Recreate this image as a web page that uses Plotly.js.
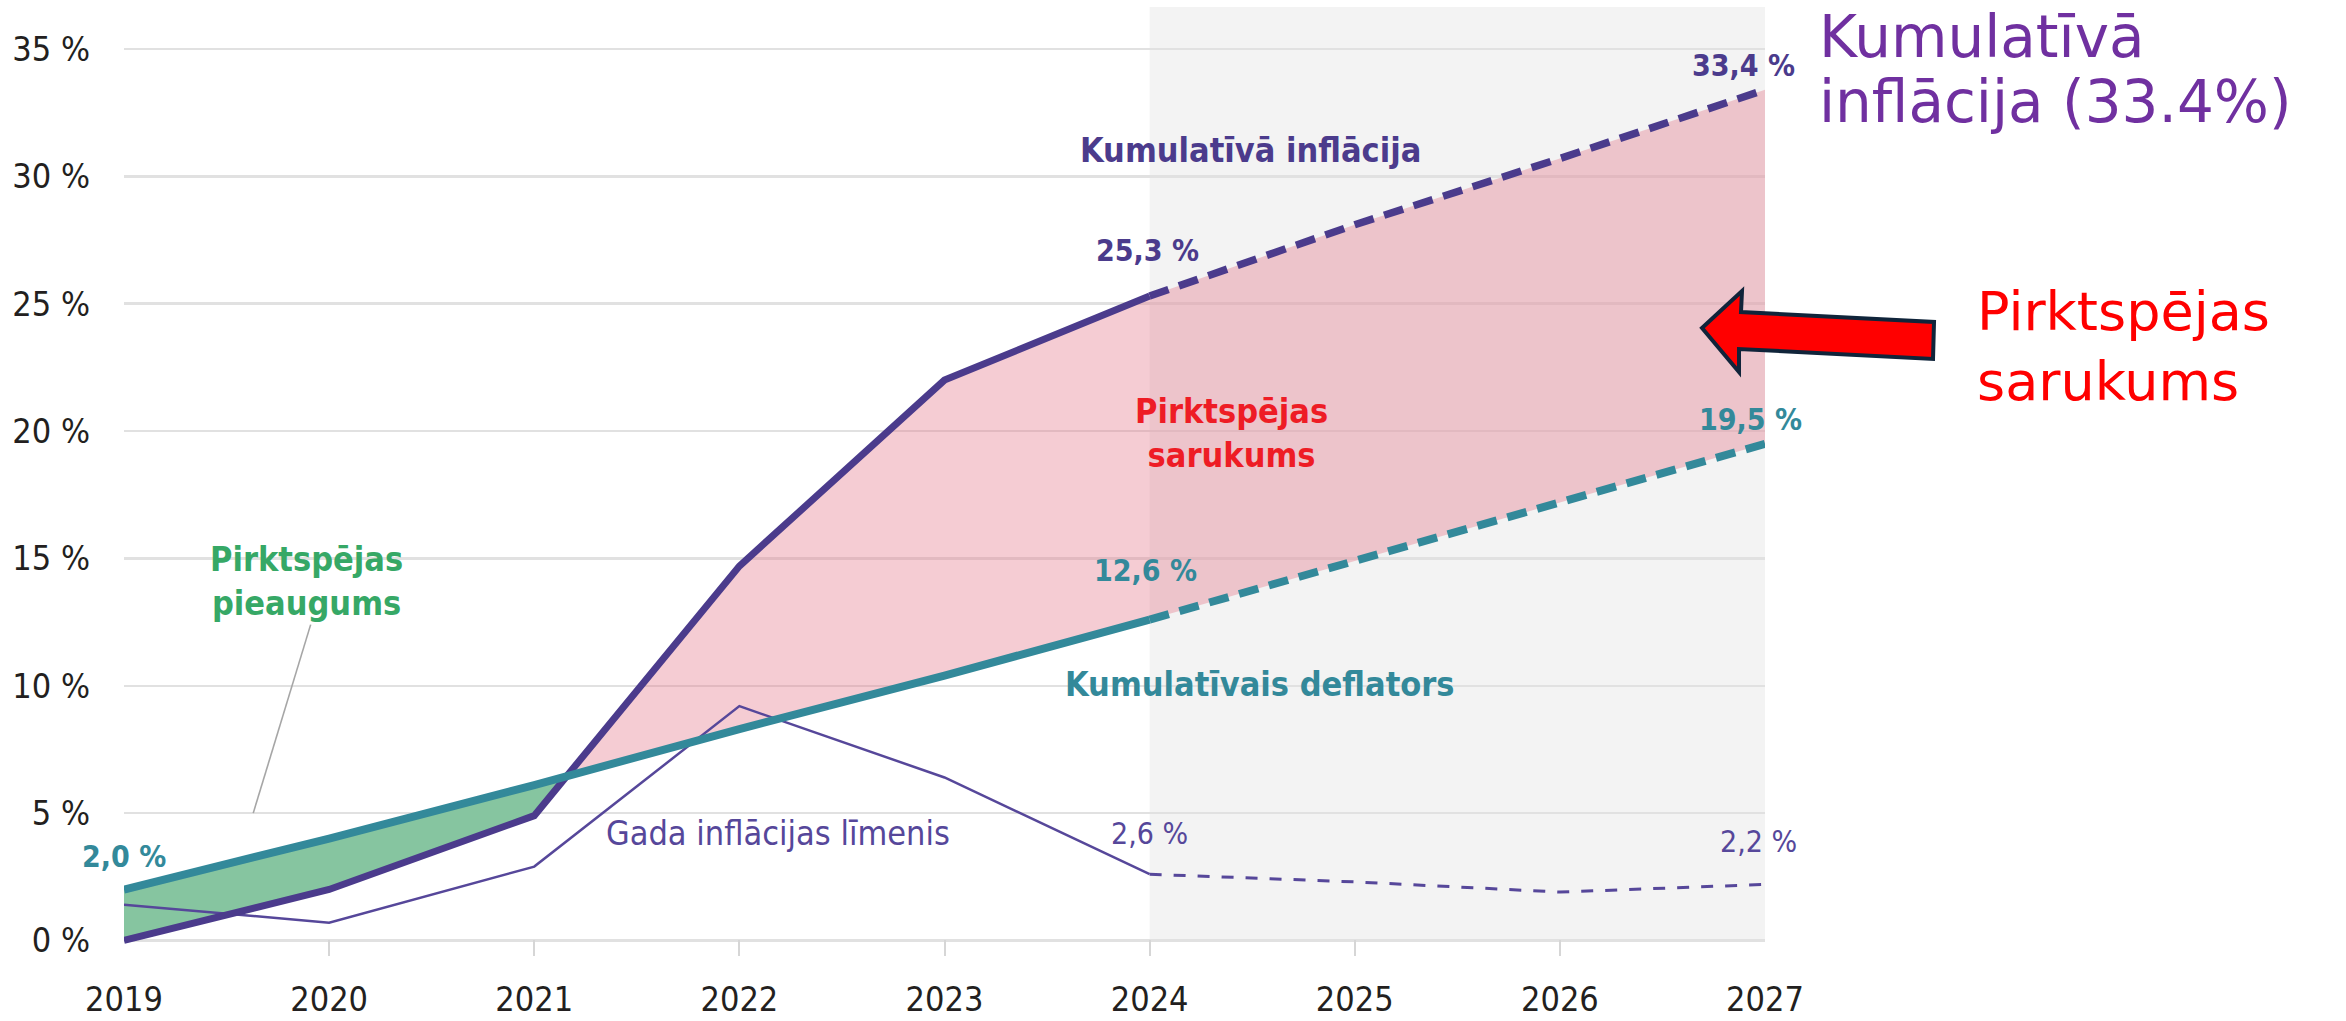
<!DOCTYPE html>
<html><head><meta charset="utf-8">
<script src="https://cdn.plot.ly/plotly-3.0.1.min.js"></script>
<style>html,body{margin:0;padding:0;background:#fff;overflow:hidden}</style>
</head><body><div id="chart" style="width:2346px;height:1021px"></div>
<script>
// ---- data ----
const years = [2019, 2020, 2021, 2022, 2023, 2024, 2025, 2026, 2027];
const cumInflation = [0.0, 2.0, 4.9, 14.7, 22.0, 25.3, 28.1, 30.7, 33.4];
const cumDeflator = [2.0, 4.0, 6.1, 8.3, 10.4, 12.6, 14.9, 17.2, 19.5];
const annualInflation = [1.4, 0.7, 2.9, 9.2, 6.4, 2.6, 2.3, 1.9, 2.2];
const yTickVals = [0, 5, 10, 15, 20, 25, 30, 35];
const yTickText = ["0 %", "5 %", "10 %", "15 %", "20 %", "25 %", "30 %", "35 %"];
const xTickText = ["2019", "2020", "2021", "2022", "2023", "2024", "2025", "2026", "2027"];
const forecastIdx = 5; // 2024: forecast begins

// ---- styles ----
const PURPLE = "#4b3b8c", TEAL = "#33899a", ANNUAL = "#56479a";
const GREEN_FILL = "#86c5a0", PINK_FILL = "rgba(228,120,140,0.38)";
const COND = "DejaVu Sans Condensed, Liberation Sans Narrow, Roboto, sans-serif";
const PLAIN = "DejaVu Sans, Verdana, sans-serif";

// crossing point between cumulative inflation and deflator
let ci = 0;
for (let i = 0; i < years.length - 1; i++) {
  const d0 = cumInflation[i] - cumDeflator[i], d1 = cumInflation[i + 1] - cumDeflator[i + 1];
  if (d0 <= 0 && d1 > 0) { ci = i; break; }
}
const t = (cumDeflator[ci] - cumInflation[ci]) /
  ((cumInflation[ci + 1] - cumInflation[ci]) - (cumDeflator[ci + 1] - cumDeflator[ci]));
const crossX = years[ci] + t * (years[ci + 1] - years[ci]);
const crossY = cumDeflator[ci] + t * (cumDeflator[ci + 1] - cumDeflator[ci]);

const gx = years.slice(0, ci + 1).concat([crossX], years.slice(0, ci + 1).reverse());
const gy = cumDeflator.slice(0, ci + 1).concat([crossY], cumInflation.slice(0, ci + 1).reverse());
const px_ = [crossX].concat(years.slice(ci + 1), years.slice(ci + 1).reverse());
const py_ = [crossY].concat(cumInflation.slice(ci + 1), cumDeflator.slice(ci + 1).reverse());

const solid = a => a.slice(0, forecastIdx + 1);
const fc = a => a.slice(forecastIdx);

const traces = [
  {x: gx, y: gy, mode: "lines", fill: "toself", fillcolor: GREEN_FILL, line: {width: 0}, hoverinfo: "skip"},
  {x: px_, y: py_, mode: "lines", fill: "toself", fillcolor: PINK_FILL, line: {width: 0}, hoverinfo: "skip"},
  {x: solid(years), y: solid(annualInflation), mode: "lines", line: {color: ANNUAL, width: 2.5}},
  {x: fc(years), y: fc(annualInflation), mode: "lines", line: {color: ANNUAL, width: 3, dash: "12px,12px"}},
  {x: solid(years), y: solid(cumInflation), mode: "lines", line: {color: PURPLE, width: 7}},
  {x: fc(years), y: fc(cumInflation), mode: "lines", line: {color: PURPLE, width: 7.5, dash: "20px,11px"}},
  {x: solid(years), y: solid(cumDeflator), mode: "lines", line: {color: TEAL, width: 8}},
  {x: fc(years), y: fc(cumDeflator), mode: "lines", line: {color: TEAL, width: 8, dash: "20px,11px"}}
];

// pixel helpers for decorations outside the plot
const L = 124, R = 1765, T = 7, B = 956, W = 2346, H = 1021;
const pxX = p => (p - L) / (R - L);
const pxY = p => (B - p) / (B - T);

function lbl(text, i, arr, color, bold, size, xs, ys) {
  return {x: years[i], y: arr[i], text: text, showarrow: false, xshift: xs, yshift: ys,
    font: {family: COND, size: size, color: color, weight: bold ? "bold" : "normal"}};
}
function fmt(v) { return v.toFixed(1).replace(".", ",") + " %"; }
function side(text, xp, yp, size, color) {
  return {xref: "paper", yref: "paper", x: pxX(xp), y: pxY(yp), xanchor: "left", yanchor: "middle",
    align: "left", text: text, showarrow: false, font: {family: PLAIN, size: size, color: color}};
}

const annotations = [
  lbl(fmt(cumDeflator[0]), 0, cumDeflator, TEAL, true, 30, 0, 33),
  lbl(fmt(cumDeflator[forecastIdx]), forecastIdx, cumDeflator, TEAL, true, 30, -4, 49),
  lbl(fmt(cumDeflator[8]), 8, cumDeflator, TEAL, true, 30, -15, 24),
  lbl(fmt(cumInflation[forecastIdx]), forecastIdx, cumInflation, PURPLE, true, 30, -2, 46),
  lbl(fmt(cumInflation[8]), 8, cumInflation, PURPLE, true, 30, -22, 24),
  lbl(fmt(annualInflation[forecastIdx]), forecastIdx, annualInflation, ANNUAL, false, 30, 0, 41),
  lbl(fmt(annualInflation[8]), 8, annualInflation, ANNUAL, false, 30, -7, 43),
  {x: 2019.89, y: 14.11, text: "Pirktspējas<br>pieaugums", showarrow: false,
    font: {family: COND, size: 34, color: "#36a866", weight: "bold"}},
  {x: 2022.19, y: 4.22, text: "Gada inflācijas līmenis", showarrow: false,
    font: {family: COND, size: 34, color: ANNUAL}},
  {x: 2024.54, y: 10.07, text: "Kumulatīvais deflators", showarrow: false,
    font: {family: COND, size: 34, color: TEAL, weight: "bold"}},
  {x: 2024.40, y: 19.93, text: "Pirktspējas<br>sarukums", showarrow: false,
    font: {family: COND, size: 34, color: "#ee1c25", weight: "bold"}},
  {x: 2024.49, y: 31.03, text: "Kumulatīvā inflācija", showarrow: false,
    font: {family: COND, size: 34, color: PURPLE, weight: "bold"}},
  side("Kumulatīvā", 1817, 37, 58, "#7030a0"),
  side("inflācija (33.4%)", 1817, 102, 58, "#7030a0"),
  side("Pirktspējas", 1975, 312, 54, "#ff0000"),
  side("sarukums", 1975, 382, 54, "#ff0000")
];

const arrowPts = [[1702, 328], [1742, 291], [1741, 312], [1934, 322], [1933, 359], [1739, 349], [1739, 372]];
const arrowPath = "M " + arrowPts.map(p => pxX(p[0]).toFixed(5) + "," + pxY(p[1]).toFixed(5)).join(" L ") + " Z";

const shapes = [
  {type: "rect", xref: "x", yref: "y", x0: years[forecastIdx], x1: years[8], y0: 0, y1: 36.65,
    fillcolor: "#f3f3f3", line: {width: 0}, layer: "below"},
  {type: "line", xref: "x", yref: "y", x0: 2019.91, y0: 12.4, x1: 2019.63, y1: 5.0,
    line: {color: "#a6a6a6", width: 1.6}, layer: "above"},
  {type: "path", xref: "paper", yref: "paper", path: arrowPath,
    fillcolor: "#ff0000", line: {color: "#10243a", width: 4}, layer: "above"}
];

const layout = {
  width: W, height: H,
  margin: {l: L, r: W - R, t: T, b: H - B},
  paper_bgcolor: "#ffffff", plot_bgcolor: "#ffffff",
  showlegend: false,
  xaxis: {range: [years[0], years[8]], tickvals: years, ticktext: xTickText,
    showgrid: false, zeroline: false, showline: false,
    ticks: "inside", ticklen: 16, tickwidth: 2, tickcolor: "#d6d6d6",
    ticklabelstandoff: 20,
    tickfont: {family: COND, size: 34, color: "#231f20"}},
  yaxis: {range: [-0.61, 36.65], tickvals: yTickVals, ticktext: yTickText,
    showgrid: true, gridcolor: "#e1e1e1", gridwidth: 2.5, zeroline: false, showline: false,
    ticks: "", ticklabelstandoff: 33,
    tickfont: {family: COND, size: 34, color: "#231f20"}},
  shapes: shapes,
  annotations: annotations
};

Plotly.newPlot("chart", traces, layout, {staticPlot: true, displayModeBar: false});
</script></body></html>
